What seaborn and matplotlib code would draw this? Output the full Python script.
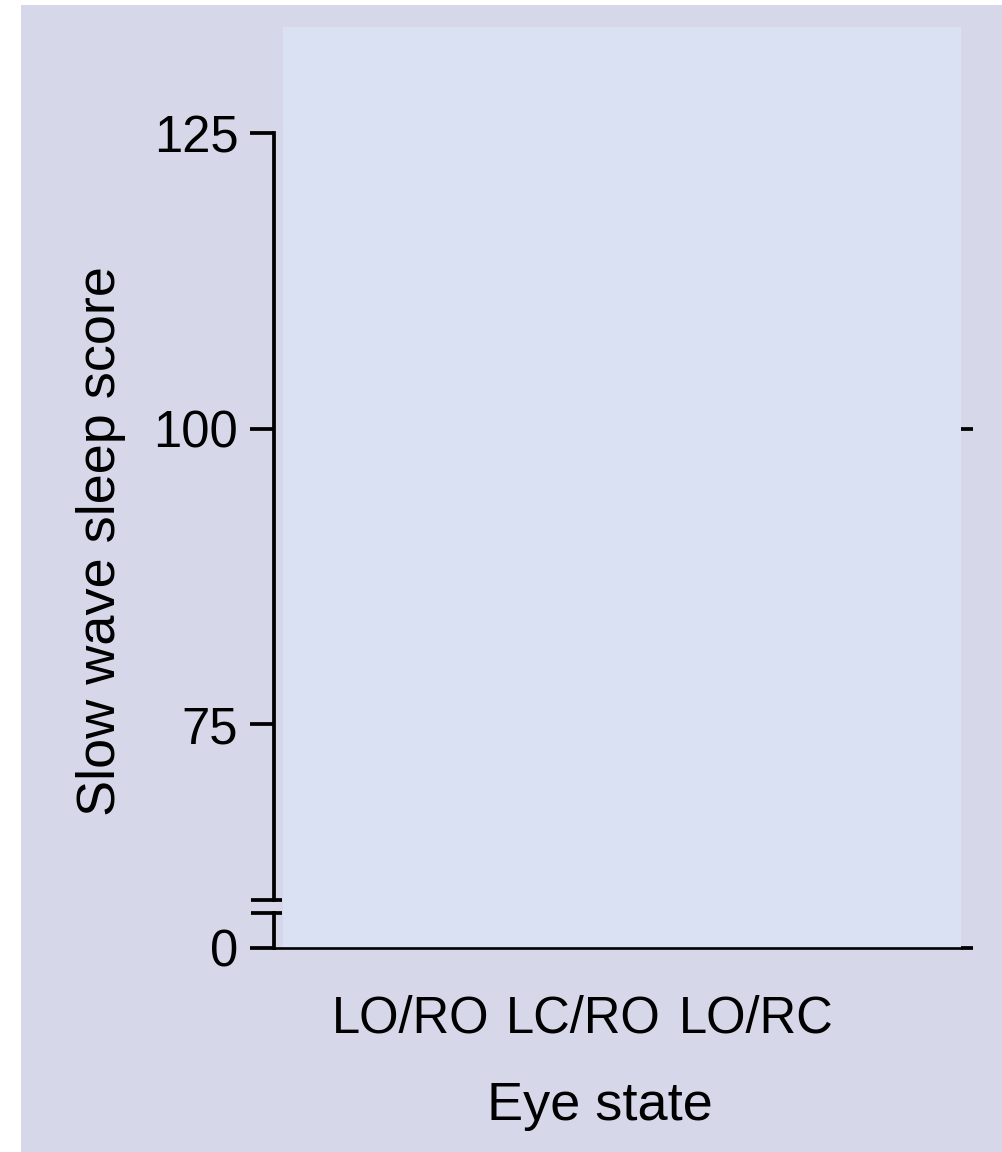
import numpy as np
import pandas as pd
import matplotlib
matplotlib.use("Agg")
import matplotlib.pyplot as plt
import seaborn as sns
from matplotlib.patches import Rectangle
from matplotlib.lines import Line2D

# ---- data (no bars are drawn in the reference: values unknown) ----
categories = ["LO/RO", "LC/RO", "LO/RC"]
scores = [np.nan, np.nan, np.nan]
upper_yticks = [75, 100, 125]
lower_yticks = [0]
right_ticks_upper = [100]
right_ticks_lower = [0]
upper_range = [60.15, 134.0]
lower_range = [0, 3.0]
x_label = "Eye state"
y_label = "Slow wave sleep score"

sns.set_theme(style="white")
plt.rcParams["font.family"] = ["Liberation Sans", "DejaVu Sans"]

TICK_SIZE = 36.5
XPAD = 34

W, H = 1002, 1152
fig = plt.figure(figsize=(W / 100, H / 100), dpi=100, facecolor="white")


def fx(x):
    return x / W


def fy(y):
    return 1 - y / H


def rect(x0, y0, x1, y1):
    return [fx(x0), fy(y1), fx(x1) - fx(x0), fy(y0) - fy(y1)]


OUTER = "#d6d8e9"
PANEL = "#d9e1f2"
fig.add_artist(Rectangle((fx(21), 0), 1 - fx(21), fy(5), transform=fig.transFigure,
                         facecolor=OUTER, edgecolor="none", zorder=-10))
fig.add_artist(Rectangle((fx(283), fy(947.5)), fx(961) - fx(283), fy(27) - fy(947.5),
                         transform=fig.transFigure, facecolor=PANEL, edgecolor="none", zorder=-9))

ax_top = fig.add_axes(rect(273.5, 27, 961, 900))
ax_bot = fig.add_axes(rect(273.5, 913, 961, 947.5))
for ax in (ax_top, ax_bot):
    ax.patch.set_visible(False)
    for s in ax.spines.values():
        s.set_visible(False)

df = pd.DataFrame({"eye_state": categories, "score": scores})
sns.barplot(data=df, x="eye_state", y="score", order=categories, ax=ax_bot,
            color="#4c72b0", errorbar=None)

spacing = 172.5
x0 = 411
xlim = ((273.5 - x0) / spacing, (961 - x0) / spacing)
ax_bot.set_xlim(*xlim)
ax_top.set_xlim(*xlim)

ax_top.set_ylim(*upper_range)
ax_bot.set_ylim(*lower_range)

LW = 2.7
TL = 17.3
for ax in (ax_top, ax_bot):
    ax.spines["left"].set_visible(True)
    ax.spines["left"].set_linewidth(LW)
    ax.spines["left"].set_color("black")
    ax.tick_params(axis="y", which="major", left=True, length=TL, width=LW,
                   pad=8, labelsize=TICK_SIZE, colors="black", direction="out")
    ax.set_xlabel("")
    ax.set_ylabel("")

ax_top.spines["left"].set_bounds(upper_range[0], upper_yticks[-1])
ax_top.set_yticks(upper_yticks)
ax_top.set_xticks([])

ax_bot.set_yticks(lower_yticks)
ax_bot.spines["bottom"].set_visible(True)
ax_bot.spines["bottom"].set_linewidth(1.9)
ax_bot.spines["bottom"].set_color("black")
ax_bot.tick_params(axis="x", length=0, pad=XPAD, labelsize=TICK_SIZE, colors="black")

# right-hand short ticks
for ax, ticks in ((ax_top, right_ticks_upper), (ax_bot, right_ticks_lower)):
    sec = ax.secondary_yaxis("right")
    sec.set_yticks(ticks)
    sec.tick_params(axis="y", length=8.6, width=LW, labelright=False,
                    direction="out", colors="black")
    sec.spines["right"].set_visible(False)

# axis break marks
for yb in (900, 913):
    fig.add_artist(Line2D([fx(251), fx(282)], [fy(yb), fy(yb)], color="black",
                          lw=LW, transform=fig.transFigure, solid_capstyle="butt"))

fig.text(fx(115), fy(541.5), y_label, rotation=90, rotation_mode="anchor",
         ha="center", va="baseline", fontsize=39, color="black")
fig.text(fx(600), fy(1120), x_label, ha="center", va="baseline",
         fontsize=39, color="black")

fig.savefig("out.png", dpi=100, facecolor="white")
